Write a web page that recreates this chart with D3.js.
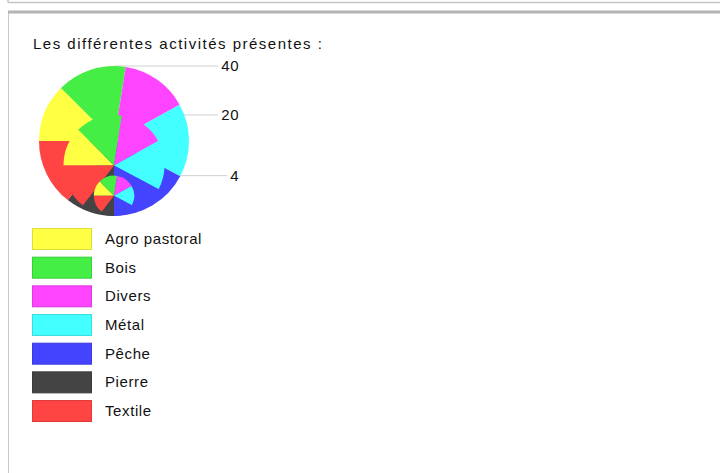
<!DOCTYPE html>
<html>
<head>
<meta charset="utf-8">
<script src="https://cdn.jsdelivr.net/npm/d3@7/dist/d3.min.js"></script>
<style>
  html, body { margin: 0; padding: 0; background: #ffffff; }
  svg { display: block; }
  text { font-family: "Liberation Sans", Arial, sans-serif; fill: #111; }
</style>
</head>
<body>
<script>
// ---- data ----
const categories = ["Agro pastoral", "Bois", "Divers", "Métal", "Pêche", "Pierre", "Textile"];
const colors = ["#ffff44", "#44ee44", "#ff44ff", "#44ffff", "#4444ff", "#444444", "#ff4444"];
const shares = [45, 54, 52, 57, 62, 38, 52];
const sizeValues = [40, 20, 4];
const sizeLabels = ["40", "20", "4"];
const titleText = "Les différentes activités présentes :";

// ---- layout ----
const W = 720, H = 473;
const svg = d3.select("body").append("svg").attr("width", W).attr("height", H);

// frames
svg.append("path").attr("d", "M8,-4 L8,1.5 Q8,2.5 9,2.5 L720,2.5")
  .attr("fill", "none").attr("stroke", "#c4c4c4").attr("stroke-width", 1.5);
svg.append("line").attr("x1", 8.5).attr("x2", 8.5).attr("y1", 11).attr("y2", H)
  .attr("stroke", "#c8c8c8").attr("stroke-width", 1);
svg.append("line").attr("x1", 8).attr("x2", W).attr("y1", 12).attr("y2", 12)
  .attr("stroke", "#b4b4b4").attr("stroke-width", 3);

// title
svg.append("text").attr("x", 33).attr("y", 49)
  .style("font-size", "15px").style("letter-spacing", "1.5px")
  .text(titleText);

// proportional pies
const cx = 114, baseY = 216;
const rScale = d3.scalePow().exponent(0.57).domain([0, 40]).range([0, 75]);
const pie = d3.pie().sort(null).value(d => d)
  .startAngle(-Math.PI / 2).endAngle(3 * Math.PI / 2);
const arcsData = pie(shares);

const labelEnd = 239;
const leaderG = svg.append("g");
const pieG = svg.append("g");
const labelG = svg.append("g");

sizeValues.forEach((v, i) => {
  const r = rScale(v);
  const yTop = baseY - 2 * r;
  const t = labelG.append("text")
    .attr("x", labelEnd).attr("y", yTop + 1.5)
    .attr("text-anchor", "end").attr("dominant-baseline", "middle")
    .style("font-size", "15px").style("letter-spacing", "0.5px")
    .text(sizeLabels[i]);
  const tw = t.node().getComputedTextLength();
  leaderG.append("line")
    .attr("x1", cx).attr("x2", labelEnd - tw - 3)
    .attr("y1", yTop).attr("y2", yTop)
    .attr("stroke", "#d0d0d0").attr("stroke-width", 1);
});

sizeValues.forEach(v => {
  const r = rScale(v);
  const arc = d3.arc().innerRadius(0).outerRadius(r);
  const g = pieG.append("g").attr("transform", `translate(${cx},${baseY - r})`);
  g.selectAll("path").data(arcsData).join("path")
    .attr("d", arc)
    .attr("fill", (d, i) => colors[i]);
});

// legend
const legY0 = 228, legStep = 28.67;
const leg = svg.append("g");
categories.forEach((c, i) => {
  const y = legY0 + i * legStep;
  leg.append("rect").attr("x", 32.5).attr("y", y + 0.5).attr("width", 59).attr("height", 21)
    .attr("fill", colors[i]).attr("stroke", d3.color(colors[i]).darker(0.4)).attr("stroke-width", 1);
  leg.append("text").attr("x", 105).attr("y", y + 12)
    .attr("dominant-baseline", "middle")
    .style("font-size", "15px").style("letter-spacing", "0.6px")
    .text(c);
});
</script>
</body>
</html>
